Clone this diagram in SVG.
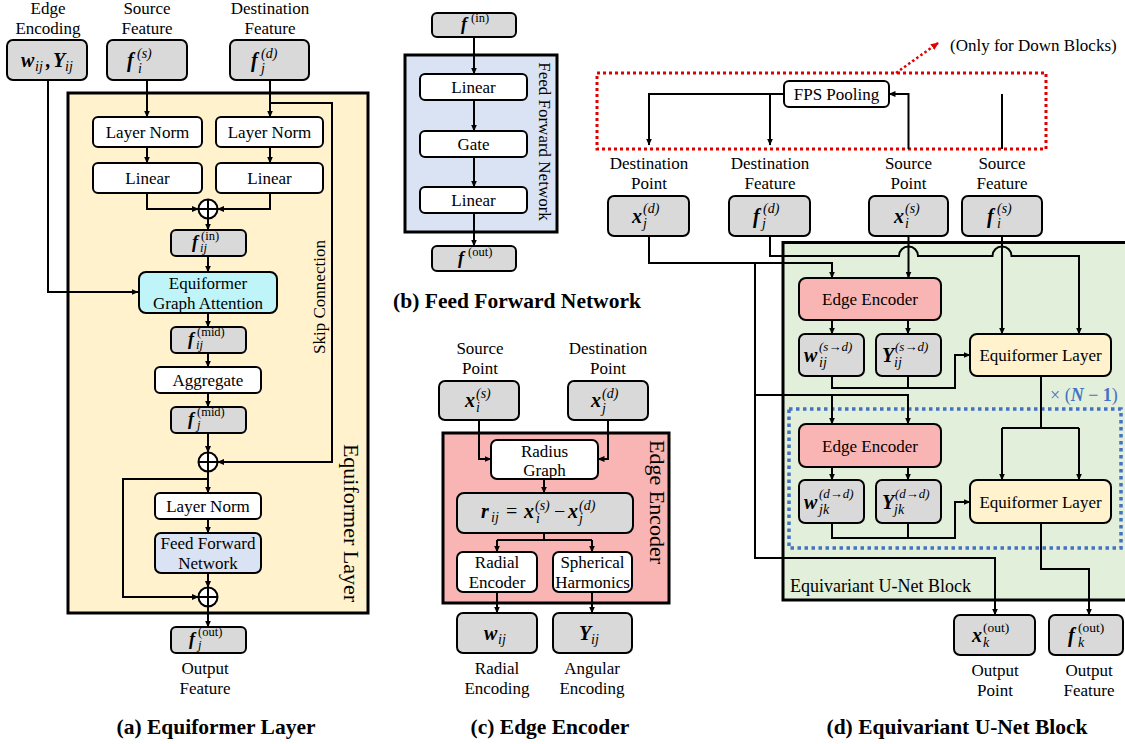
<svg xmlns="http://www.w3.org/2000/svg" width="1125" height="744" viewBox="0 0 1125 744">
<defs>
<marker id="ah" markerWidth="7" markerHeight="6" refX="6.5" refY="3" orient="auto" markerUnits="userSpaceOnUse"><path d="M0,0 L7,3 L0,6 z" fill="#000"/></marker>
<marker id="ahr" markerWidth="8" markerHeight="7" refX="7" refY="3.5" orient="auto" markerUnits="userSpaceOnUse"><path d="M0,0 L8,3.5 L0,7 z" fill="#e00000"/></marker>
<style>
text{font-family:"Liberation Serif","Times New Roman",serif;fill:#000}
.t{font-size:17px}
.m{text-anchor:middle}
.v{font-size:22px;text-anchor:middle}
.ttl{font-size:21.5px;font-weight:bold;text-anchor:middle}
.mb{font-size:20px;font-weight:bold;font-style:italic}
.ms{font-size:18px;font-weight:bold;font-style:italic}
.mi{font-size:14px;font-style:italic}
.ma{font-size:13px;font-style:italic}
.mu{font-size:13.5px}
.si{font-size:12.5px;font-style:italic}
.su{font-size:12.5px}
.op{font-size:20px}
.gray{fill:#d9d9d9;stroke:#000;stroke-width:2}
.wht{fill:#fff;stroke:#000;stroke-width:2}
.frame{stroke:#000;stroke-width:3}
.ln{fill:none;stroke:#000;stroke-width:2}
.arr{marker-end:url(#ah)}
.sum circle{fill:#fff;stroke:#000;stroke-width:2}
.sum path{stroke:#000;stroke-width:2}
</style>
</defs>
<rect width="1125" height="744" fill="#fff"/>

<!-- ===== (a) Equiformer Layer ===== -->
<g id="a-frame">
<rect class="frame" x="68" y="93" width="300" height="520" fill="#fff2cc"/>
<text class="v" transform="translate(344,523) rotate(90)">Equiformer Layer</text>
<text class="t m" transform="translate(325,297) rotate(-90)">Skip Connection</text>
</g>

<g id="a-connectors">
<path class="ln arr" d="M48,80 V292 H138"/>
<path class="ln arr" d="M147,80 V117"/>
<path class="ln arr" d="M270,80 V117"/>
<path class="ln arr" d="M270,103 H332 V462 H217.5"/>
<path class="ln arr" d="M147,147 V163"/>
<path class="ln arr" d="M270,147 V163"/>
<path class="ln arr" d="M147,193 V209 H198.5"/>
<path class="ln arr" d="M270,193 V209 H217.5"/>
<path class="ln arr" d="M208,218.5 V230"/>
<path class="ln arr" d="M208,256 V272"/>
<path class="ln arr" d="M208,313 V327"/>
<path class="ln arr" d="M208,353 V367"/>
<path class="ln arr" d="M208,393 V407"/>
<path class="ln arr" d="M208,433 V452.5"/>
<path class="ln arr" d="M208,471.5 V493"/>
<path class="ln arr" d="M208,479 H123 V597 H198.5"/>
<path class="ln arr" d="M208,519 V533"/>
<path class="ln arr" d="M208,573 V587.5"/>
<path class="ln arr" d="M208,606.5 V627"/>
</g>

<g id="a-edge-encoding">
<text class="t m" x="48" y="14">Edge</text><text class="t m" x="48" y="34">Encoding</text>
<rect class="gray" x="7" y="40" width="80" height="40" rx="6"/>
<text class="mb" x="21" y="67">w</text><text class="mi" x="35" y="71">ij</text><text class="mb" x="46" y="67">,</text><text class="mb" x="53" y="67">Y</text><text class="mi" x="65" y="71">ij</text>
</g>
<g id="a-source-feature">
<text class="t m" x="147" y="14">Source</text><text class="t m" x="147" y="34">Feature</text>
<rect class="gray" x="107" y="40" width="80" height="40" rx="6"/>
<text class="mb" x="127" y="67">f</text><text class="mi" x="137" y="58">(s)</text><text class="mi" x="138" y="73">i</text>
</g>
<g id="a-dest-feature">
<text class="t m" x="270" y="14">Destination</text><text class="t m" x="270" y="34">Feature</text>
<rect class="gray" x="230" y="40" width="79" height="40" rx="6"/>
<text class="mb" x="251" y="67">f</text><text class="mi" x="261" y="58">(d)</text><text class="mi" x="261" y="73">j</text>
</g>
<g id="a-layernorm-s"><rect class="wht" x="93" y="117" width="109" height="30" rx="5"/><text class="t m" x="147.5" y="138">Layer Norm</text></g>
<g id="a-layernorm-d"><rect class="wht" x="216" y="117" width="107" height="30" rx="5"/><text class="t m" x="269.5" y="138">Layer Norm</text></g>
<g id="a-linear-s"><rect class="wht" x="93" y="163" width="109" height="30" rx="5"/><text class="t m" x="147.5" y="184">Linear</text></g>
<g id="a-linear-d"><rect class="wht" x="216" y="163" width="107" height="30" rx="5"/><text class="t m" x="269.5" y="184">Linear</text></g>
<g id="a-sum1" class="sum"><circle cx="208" cy="209" r="9.5"/><path d="M198.5,209 H217.5 M208,199.5 V218.5"/></g>
<g id="a-f-in">
<rect class="gray" x="171" y="230" width="75" height="26" rx="5"/>
<text class="ms" x="192" y="248">f</text><text class="su" x="201" y="240">(in)</text><text class="si" x="200" y="252">ij</text>
</g>
<g id="a-graph-attention">
<rect x="139" y="272" width="138" height="41" rx="7" fill="#bff5f9" stroke="#000" stroke-width="2"/>
<text class="t m" x="208" y="289">Equiformer</text><text class="t m" x="208" y="309">Graph Attention</text>
</g>
<g id="a-f-mid-ij">
<rect class="gray" x="171" y="327" width="75" height="26" rx="5"/>
<text class="ms" x="188" y="345">f</text><text class="su" x="197" y="336">(mid)</text><text class="si" x="196" y="349">ij</text>
</g>
<g id="a-aggregate"><rect class="wht" x="155" y="367" width="106" height="26" rx="5"/><text class="t m" x="208" y="386">Aggregate</text></g>
<g id="a-f-mid-j">
<rect class="gray" x="171" y="407" width="75" height="26" rx="5"/>
<text class="ms" x="188" y="425">f</text><text class="su" x="197" y="416">(mid)</text><text class="si" x="197" y="429">j</text>
</g>
<g id="a-sum2" class="sum"><circle cx="208" cy="462" r="9.5"/><path d="M198.5,462 H217.5 M208,452.5 V471.5"/></g>
<g id="a-layernorm2"><rect class="wht" x="155" y="493" width="106" height="26" rx="5"/><text class="t m" x="208" y="512">Layer Norm</text></g>
<g id="a-ffn">
<rect x="155" y="533" width="106" height="40" rx="6" fill="#dae3f3" stroke="#000" stroke-width="2"/>
<text class="t m" x="208" y="549">Feed Forward</text><text class="t m" x="208" y="569">Network</text>
</g>
<g id="a-sum3" class="sum"><circle cx="208" cy="597" r="9.5"/><path d="M198.5,597 H217.5 M208,587.5 V606.5"/></g>
<g id="a-f-out">
<rect class="gray" x="171" y="627" width="75" height="26" rx="5"/>
<text class="ms" x="189" y="645">f</text><text class="su" x="198" y="636">(out)</text><text class="si" x="198" y="649">j</text>
<text class="t m" x="205" y="674">Output</text><text class="t m" x="205" y="694">Feature</text>
</g>
<text class="ttl" x="216" y="734">(a) Equiformer Layer</text>

<!-- ===== (b) Feed Forward Network ===== -->
<g id="b-frame">
<rect class="frame" x="405" y="55" width="152" height="177" fill="#dae3f3"/>
<text class="t m" transform="translate(539,141.5) rotate(90)">Feed Forward Network</text>
</g>
<g id="b-connectors">
<path class="ln arr" d="M474,37 V74"/>
<path class="ln arr" d="M474,100 V131"/>
<path class="ln arr" d="M474,157 V187"/>
<path class="ln arr" d="M474,213 V246"/>
</g>
<g id="b-f-in">
<rect class="gray" x="432" y="13" width="84" height="24" rx="5"/>
<text class="ms" x="461" y="30">f</text><text class="su" x="471" y="22">(in)</text>
</g>
<g id="b-linear1"><rect class="wht" x="420" y="74" width="107" height="26" rx="5"/><text class="t m" x="473.5" y="93">Linear</text></g>
<g id="b-gate"><rect class="wht" x="420" y="131" width="107" height="26" rx="5"/><text class="t m" x="473.5" y="150">Gate</text></g>
<g id="b-linear2"><rect class="wht" x="420" y="187" width="107" height="26" rx="5"/><text class="t m" x="473.5" y="206">Linear</text></g>
<g id="b-f-out">
<rect class="gray" x="432" y="246" width="84" height="25" rx="5"/>
<text class="ms" x="458" y="264">f</text><text class="su" x="468" y="256">(out)</text>
</g>
<text class="ttl" x="517" y="308">(b) Feed Forward Network</text>

<!-- ===== (c) Edge Encoder ===== -->
<g id="c-frame">
<rect class="frame" x="443" y="433" width="226" height="170" fill="#f9b5b3"/>
<text class="v" transform="translate(650,502) rotate(90)">Edge Encoder</text>
</g>
<g id="c-connectors">
<path class="ln arr" d="M479,420 V459 H491"/>
<path class="ln arr" d="M608,420 V459 H598"/>
<path class="ln arr" d="M544,479 V493"/>
<path class="ln" d="M544,533 V540 M497,540 H592"/>
<path class="ln arr" d="M497,540 V552"/>
<path class="ln arr" d="M592,540 V552"/>
<path class="ln arr" d="M497,592 V613"/>
<path class="ln arr" d="M592,592 V613"/>
</g>
<g id="c-source-point">
<text class="t m" x="480" y="354">Source</text><text class="t m" x="480" y="374">Point</text>
<rect class="gray" x="439" y="381" width="80" height="39" rx="6"/>
<text class="mb" x="465" y="407">x</text><text class="mi" x="476" y="398">(s)</text><text class="mi" x="476" y="412">i</text>
</g>
<g id="c-dest-point">
<text class="t m" x="608" y="354">Destination</text><text class="t m" x="608" y="374">Point</text>
<rect class="gray" x="568" y="381" width="80" height="39" rx="6"/>
<text class="mb" x="591" y="407">x</text><text class="mi" x="602" y="398">(d)</text><text class="mi" x="602" y="413">j</text>
</g>
<g id="c-radius-graph">
<rect class="wht" x="491" y="440" width="107" height="39" rx="6"/>
<text class="t m" x="544.5" y="457">Radius</text><text class="t m" x="544.5" y="476">Graph</text>
</g>
<g id="c-relative-pos">
<rect class="gray" x="457" y="493" width="176" height="40" rx="7"/>
<text class="mb" x="481" y="518">r</text><text class="mi" x="491" y="522">ij</text>
<text class="op" x="506" y="518">=</text>
<text class="mb" x="524" y="518">x</text><text class="mi" x="535" y="510">(s)</text><text class="mi" x="536" y="523">i</text>
<text class="op" x="554" y="518">−</text>
<text class="mb" x="568" y="518">x</text><text class="mi" x="579" y="510">(d)</text><text class="mi" x="579" y="523">j</text>
</g>
<g id="c-radial-encoder">
<rect class="wht" x="457" y="552" width="80" height="40" rx="6"/>
<text class="t m" x="497" y="568">Radial</text><text class="t m" x="497" y="588">Encoder</text>
</g>
<g id="c-spherical-harmonics">
<rect class="wht" x="553" y="552" width="79" height="40" rx="6"/>
<text class="t m" x="592.5" y="568">Spherical</text><text class="t m" x="592.5" y="588">Harmonics</text>
</g>
<g id="c-radial-encoding">
<rect class="gray" x="457" y="613" width="80" height="40" rx="6"/>
<text class="mb" x="484" y="640">w</text><text class="mi" x="498" y="644">ij</text>
<text class="t m" x="497" y="674">Radial</text><text class="t m" x="497" y="694">Encoding</text>
</g>
<g id="c-angular-encoding">
<rect class="gray" x="553" y="613" width="79" height="40" rx="6"/>
<text class="mb" x="579" y="640">Y</text><text class="mi" x="591" y="644">ij</text>
<text class="t m" x="592" y="674">Angular</text><text class="t m" x="592" y="694">Encoding</text>
</g>
<text class="ttl" x="550" y="734">(c) Edge Encoder</text>

<!-- ===== (d) Equivariant U-Net Block ===== -->
<g id="d-frame">
<rect class="frame" x="783" y="242.5" width="350" height="357.5" fill="#e2efda"/>
<text class="t" x="790" y="592" style="font-size:18px">Equivariant U-Net Block</text>
</g>
<g id="d-repeat-frame">
<rect x="789" y="409" width="332" height="139" fill="none" stroke="#4472c4" stroke-width="3.5" stroke-dasharray="3.5 3.5"/>
<text x="1050" y="401" style="font-size:18px;fill:#4472c4">× (<tspan font-weight="bold" font-style="italic" style="fill:#4472c4">N</tspan> − <tspan font-weight="bold" style="fill:#4472c4">1</tspan>)</text>
</g>
<g id="d-pooling-frame">
<rect x="597" y="73" width="449" height="76" fill="none" stroke="#e00000" stroke-width="3" stroke-dasharray="3 3"/>
<path d="M896,73 L938,43" fill="none" stroke="#e00000" stroke-width="2.5" stroke-dasharray="2.5 2.5" marker-end="url(#ahr)"/>
<text class="t" x="950" y="51">(Only for Down Blocks)</text>
</g>

<g id="d-connectors">
<path class="ln arr" d="M784,94 H649 V145"/>
<path class="ln arr" d="M770,94 V145"/>
<path class="ln arr" d="M908.5,149 V94 H889"/>
<path class="ln" d="M1002,149 V94"/>
<path class="ln arr" d="M649,236 V263 H832 V278"/>
<path class="ln arr" d="M755,263 V558 H995 V615"/>
<path class="ln arr" d="M755,395 H908 V424"/>
<path class="ln arr" d="M832,395 V424"/>
<path class="ln arr" d="M770,236 V256 H899 A9.5,9.5 0 0 1 918,256 H992.5 A9.5,9.5 0 0 1 1011.5,256 H1079 V334"/>
<path class="ln arr" d="M908.5,236 V278"/>
<path class="ln arr" d="M1002,236 V334"/>
<path class="ln arr" d="M832,320 V334"/>
<path class="ln arr" d="M908,320 V334"/>
<path class="ln arr" d="M832,376 V388 H955 V355 H970"/>
<path class="ln" d="M908,376 V388"/>
<path class="ln" d="M1041,376 V428 M1002,428 H1079"/>
<path class="ln arr" d="M1002,428 V480"/>
<path class="ln arr" d="M1079,428 V480"/>
<path class="ln arr" d="M832,467 V480"/>
<path class="ln arr" d="M908,467 V480"/>
<path class="ln arr" d="M832,523 V538 H955 V502 H970"/>
<path class="ln" d="M908,523 V538"/>
<path class="ln arr" d="M1041,523 V569 H1089 V615"/>
</g>

<g id="d-fps-pooling"><rect class="wht" x="784" y="81" width="105" height="26" rx="5"/><text class="t m" x="836.5" y="100">FPS Pooling</text></g>
<g id="d-dest-point">
<text class="t m" x="649" y="169">Destination</text><text class="t m" x="649" y="189">Point</text>
<rect class="gray" x="608" y="196" width="81" height="40" rx="6"/>
<text class="mb" x="632" y="223">x</text><text class="mi" x="643" y="213">(d)</text><text class="mi" x="643" y="228">j</text>
</g>
<g id="d-dest-feature">
<text class="t m" x="770" y="169">Destination</text><text class="t m" x="770" y="189">Feature</text>
<rect class="gray" x="729" y="196" width="81" height="40" rx="6"/>
<text class="mb" x="753" y="223">f</text><text class="mi" x="763" y="213">(d)</text><text class="mi" x="762" y="228">j</text>
</g>
<g id="d-source-point">
<text class="t m" x="908.5" y="169">Source</text><text class="t m" x="908.5" y="189">Point</text>
<rect class="gray" x="869" y="196" width="79" height="40" rx="6"/>
<text class="mb" x="894" y="223">x</text><text class="mi" x="905" y="213">(s)</text><text class="mi" x="905" y="228">i</text>
</g>
<g id="d-source-feature">
<text class="t m" x="1002" y="169">Source</text><text class="t m" x="1002" y="189">Feature</text>
<rect class="gray" x="962" y="196" width="80" height="40" rx="6"/>
<text class="mb" x="987" y="223">f</text><text class="mi" x="997" y="213">(s)</text><text class="mi" x="997" y="228">i</text>
</g>
<g id="d-edge-encoder1"><rect x="799" y="278" width="142" height="42" rx="7" fill="#f9b5b3" stroke="#000" stroke-width="2"/><text class="t m" x="870" y="305">Edge Encoder</text></g>
<g id="d-w-sd">
<rect class="gray" x="799" y="334" width="65" height="42" rx="6"/>
<text class="mb" x="804" y="362">w</text><text class="ma" x="819" y="351">(s→d)</text><text class="mi" x="819" y="367">ij</text>
</g>
<g id="d-y-sd">
<rect class="gray" x="876" y="334" width="65" height="42" rx="6"/>
<text class="mb" x="882" y="362">Y</text><text class="ma" x="895" y="351">(s→d)</text><text class="mi" x="894" y="367">ij</text>
</g>
<g id="d-equiformer1"><rect x="970" y="334" width="141" height="42" rx="7" fill="#fff2cc" stroke="#000" stroke-width="2"/><text class="t m" x="1040.5" y="361">Equiformer Layer</text></g>
<g id="d-edge-encoder2"><rect x="799" y="424" width="142" height="43" rx="7" fill="#f9b5b3" stroke="#000" stroke-width="2"/><text class="t m" x="870" y="452">Edge Encoder</text></g>
<g id="d-w-dd">
<rect class="gray" x="799" y="480" width="65" height="43" rx="6"/>
<text class="mb" x="804" y="509">w</text><text class="ma" x="819" y="498">(d→d)</text><text class="mi" x="819" y="514">jk</text>
</g>
<g id="d-y-dd">
<rect class="gray" x="876" y="480" width="65" height="43" rx="6"/>
<text class="mb" x="882" y="509">Y</text><text class="ma" x="895" y="498">(d→d)</text><text class="mi" x="894" y="514">jk</text>
</g>
<g id="d-equiformer2"><rect x="970" y="480" width="141" height="43" rx="7" fill="#fff2cc" stroke="#000" stroke-width="2"/><text class="t m" x="1040.5" y="508">Equiformer Layer</text></g>
<g id="d-out-point">
<rect class="gray" x="954" y="615" width="81" height="40" rx="6"/>
<text class="mb" x="972" y="642">x</text><text class="mu" x="983" y="632">(out)</text><text class="mi" x="983" y="647">k</text>
<text class="t m" x="995" y="676">Output</text><text class="t m" x="995" y="696">Point</text>
</g>
<g id="d-out-feature">
<rect class="gray" x="1049" y="615" width="74" height="40" rx="6"/>
<text class="mb" x="1068" y="642">f</text><text class="mu" x="1078" y="632">(out)</text><text class="mi" x="1078" y="647">k</text>
<text class="t m" x="1089" y="676">Output</text><text class="t m" x="1089" y="696">Feature</text>
</g>
<text class="ttl" x="957" y="734">(d) Equivariant U-Net Block</text>
</svg>
